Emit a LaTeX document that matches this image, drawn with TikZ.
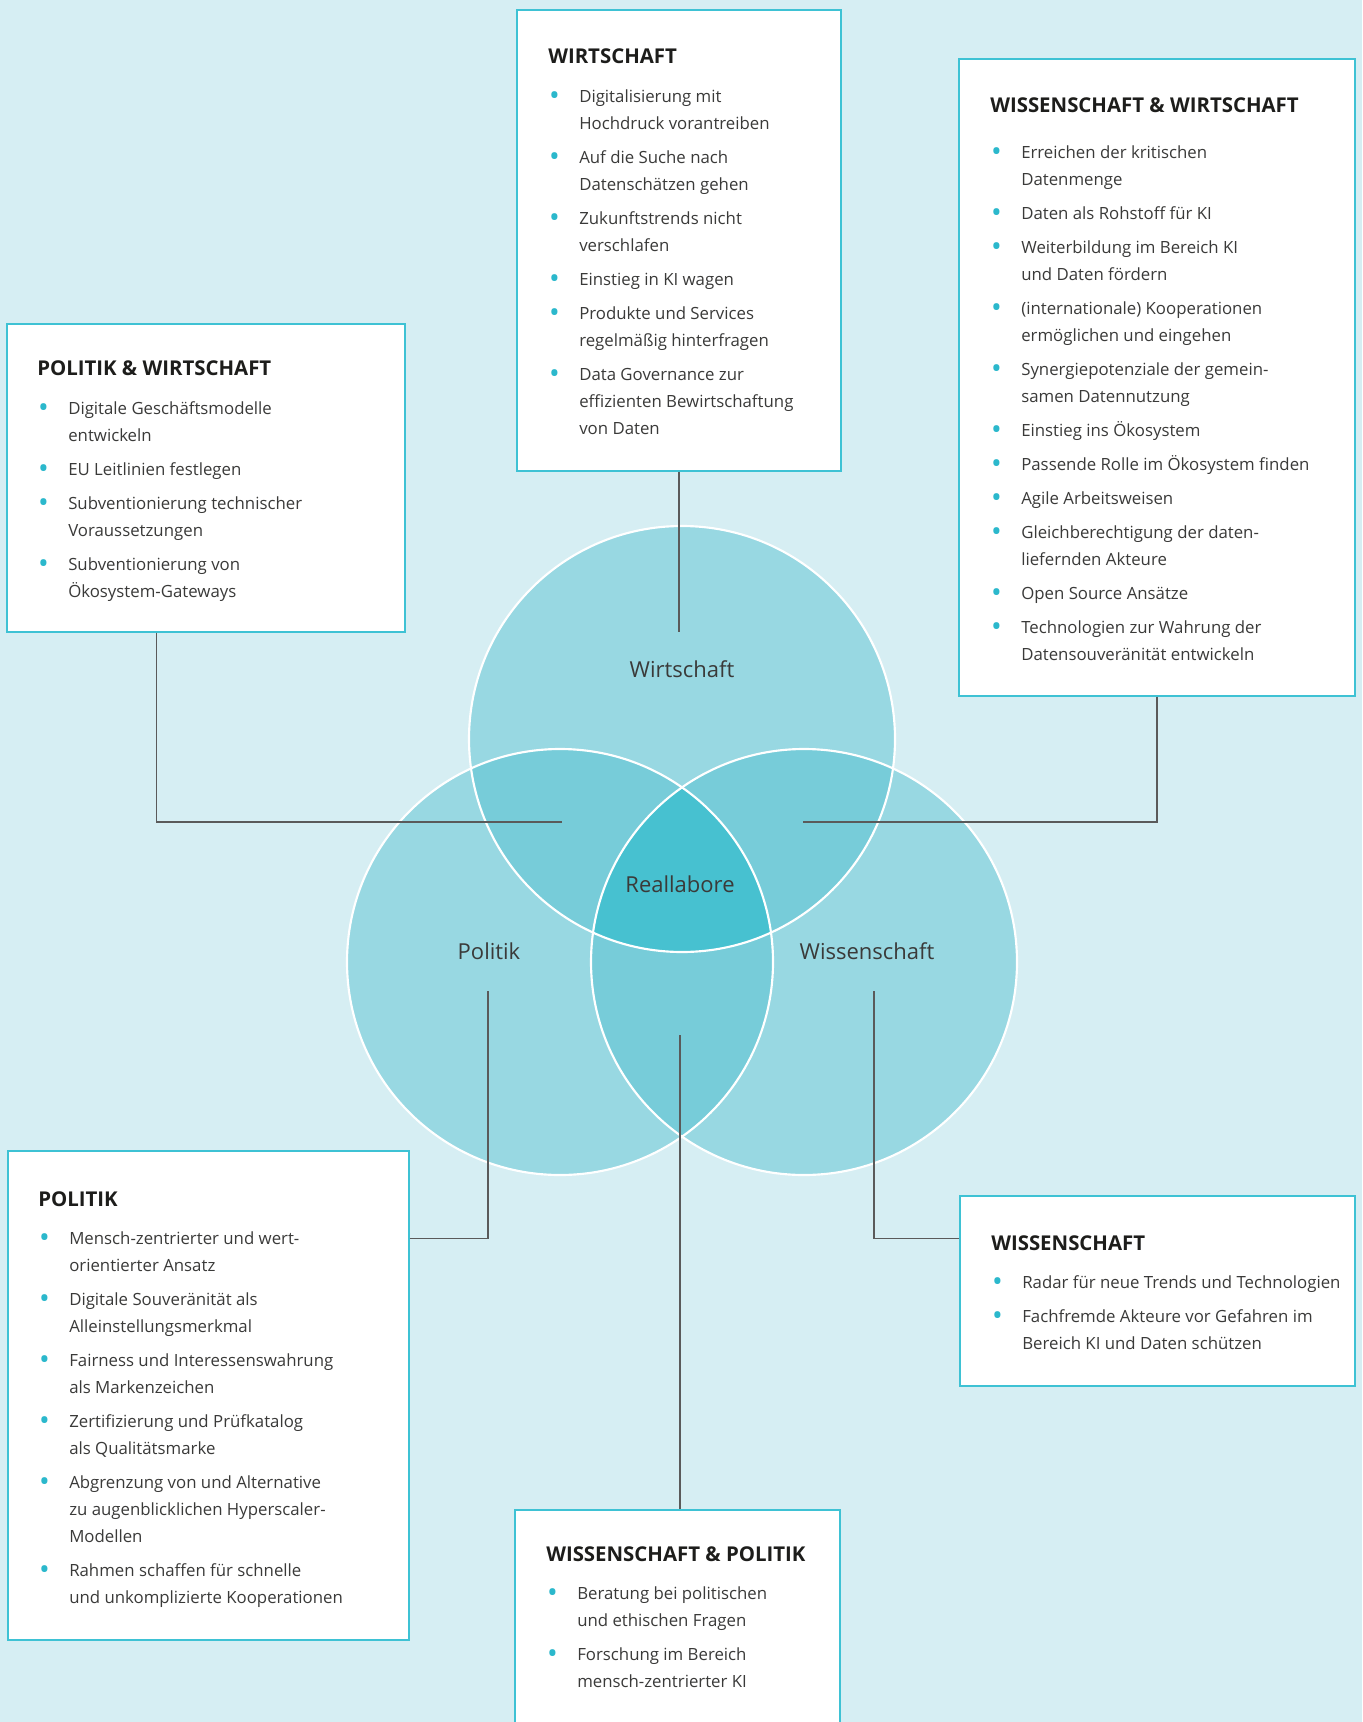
\documentclass[tikz,border=0pt]{standalone}
\usepackage{fontspec}
\setmainfont{Open Sans}
\usetikzlibrary{fit}
\definecolor{bgc}{HTML}{D6EEF3}
\definecolor{circc}{HTML}{98D8E2}
\definecolor{ovc}{HTML}{77CCD9}
\definecolor{ctrc}{HTML}{47C1D0}
\definecolor{boxc}{HTML}{3EC2D4}
\definecolor{bulc}{HTML}{2BB8CC}
\definecolor{txtc}{HTML}{3A3A39}
\definecolor{ttlc}{HTML}{1D1D1B}
\definecolor{linec}{HTML}{5A5A5A}
\newcommand\boxttl[2][0pt]{\noindent\leavevmode{\fontsize{15.3pt}{20.2pt}\selectfont\bfseries\color{ttlc}#2}\par\vspace{\dimexpr3.5pt+#1\relax}}
\newcommand\itm[1]{\par\vspace{5.3pt}\noindent\hangindent=23.25pt\hangafter=1\makebox[23.25pt][l]{\hspace{0.6pt}\raisebox{-0.32ex}{\scalebox{1.7}{\textcolor{bulc}{•}}}}#1}
\tikzset{
  infobox/.style={draw=boxc, line width=1.1pt, fill=white, inner sep=0pt},
  conn/.style={draw=linec, line width=0.9pt},
  content/.style={anchor=base west, inner sep=0pt, text=txtc, font=\fontsize{12.6pt}{20.2pt}\selectfont},
  clabel/.style={font=\fontsize{16.5pt}{19pt}\selectfont, text=txtc, inner sep=0pt, anchor=center},
  ring/.style={draw=white, line width=1.6pt},
}
\begin{document}
\begin{tikzpicture}[x=0.75pt,y=-0.75pt]
\useasboundingbox (0,0) rectangle (1362,1722);
\clip (0,0) rectangle (1362,1722);
\fill[bgc] (0,0) rectangle (1362,1722);

% circles
\coordinate (cw) at (682,739);
\coordinate (cp) at (560,962);
\coordinate (cs) at (804,962);
\fill[circc] (cw) circle (213);
\fill[circc] (cp) circle (213);
\fill[circc] (cs) circle (213);
\begin{scope}
  \clip (cw) circle (213);
  \fill[ovc] (cp) circle (213);
  \fill[ovc] (cs) circle (213);
\end{scope}
\begin{scope}
  \clip (cp) circle (213);
  \fill[ovc] (cs) circle (213);
\end{scope}
\begin{scope}
  \clip (cw) circle (213);
  \clip (cp) circle (213);
  \fill[ctrc] (cs) circle (213);
\end{scope}
\draw[ring] (cw) circle (213);
\draw[ring] (cp) circle (213);
\draw[ring] (cs) circle (213);

\node[clabel] (lw) at (682,669) {Wirtschaft};
\node[clabel] (lp) at (489,951) {Politik};
\node[clabel] (ls) at (867,951) {Wissenschaft};
\node[clabel] (lr) at (680,884) {Reallabore};

% boxes
\node[infobox, fit={(517,10) (841,471)}] (wbox) {};
\node[infobox, fit={(959,59) (1355,696)}] (wwbox) {};
\node[infobox, fit={(7,324) (405,632)}] (pwbox) {};
\node[infobox, fit={(8,1151) (409,1640)}] (pbox) {};
\node[infobox, fit={(960,1196) (1355,1386)}] (wsbox) {};
\node[infobox, fit={(515,1510) (840,1760)}] (wpbox) {};

% connectors
\coordinate (wend) at (679,632);
\coordinate (pwend) at (562,822);
\coordinate (wwend) at (803,822);
\coordinate (pend) at (488,991);
\coordinate (wsend) at (874,991);
\coordinate (wpend) at (680,1035);
\draw[conn] (wbox.south) -- (wend);
\draw[conn] (pwbox.south west) ++(150,0) |- (pwend);
\draw[conn] (wwbox.south) |- (wwend);
\draw[conn] (pbox.north east) ++(0,88) -| (pend);
\draw[conn] (wsbox.north west) ++(0,43) -| (wsend);
\draw[conn] (wpend) -- (wpend |- wpbox.north);

% contents
\node[content] (tw) at (548,64) {\parbox[t]{300pt}{%
\boxttl{WIRTSCHAFT}
\itm{Digitalisierung mit\\Hochdruck vorantreiben}
\itm{Auf die Suche nach\\Datenschätzen gehen}
\itm{Zukunftstrends nicht\\verschlafen}
\itm{Einstieg in KI wagen}
\itm{Produkte und Services\\regelmäßig hinterfragen}
\itm{Data Governance zur\\effizienten Bewirtschaftung\\von Daten}}};

\node[content] (tww) at (990,112.5) {\parbox[t]{350pt}{%
\boxttl[5.8pt]{WISSENSCHAFT \& WIRTSCHAFT}
\itm{Erreichen der kritischen\\Datenmenge}
\itm{Daten als Rohstoff für KI}
\itm{Weiterbildung im Bereich KI\\und Daten fördern}
\itm{(internationale) Kooperationen\\ermöglichen und eingehen}
\itm{Synergiepotenziale der gemein-\\samen Datennutzung}
\itm{Einstieg ins Ökosystem}
\itm{Passende Rolle im Ökosystem finden}
\itm{Agile Arbeitsweisen}
\itm{Gleichberechtigung der daten-\\liefernden Akteure}
\itm{Open Source Ansätze}
\itm{Technologien zur Wahrung der\\Datensouveränität entwickeln}}};

\node[content] (tpw) at (37,376) {\parbox[t]{350pt}{%
\boxttl{POLITIK \& WIRTSCHAFT}
\itm{Digitale Geschäftsmodelle\\entwickeln}
\itm{EU Leitlinien festlegen}
\itm{Subventionierung technischer\\Voraussetzungen}
\itm{Subventionierung von\\Ökosystem-Gateways}}};

\node[content] (tp) at (38,1206) {\parbox[t]{350pt}{%
\boxttl{POLITIK}
\itm{Mensch-zentrierter und wert-\\orientierter Ansatz}
\itm{Digitale Souveränität als\\Alleinstellungsmerkmal}
\itm{Fairness und Interessenswahrung\\als Markenzeichen}
\itm{Zertifizierung und Prüfkatalog\\als Qualitätsmarke}
\itm{Abgrenzung von und Alternative\\zu augenblicklichen Hyperscaler-\\Modellen}
\itm{Rahmen schaffen für schnelle\\und unkomplizierte Kooperationen}}};

\node[content] (ts) at (991,1250) {\parbox[t]{350pt}{%
\boxttl{WISSENSCHAFT}
\itm{Radar für neue Trends und Technologien}
\itm{Fachfremde Akteure vor Gefahren im\\Bereich KI und Daten schützen}}};

\node[content] (twp) at (546,1561) {\parbox[t]{300pt}{%
\boxttl{WISSENSCHAFT \& POLITIK}
\itm{Beratung bei politischen\\und ethischen Fragen}
\itm{Forschung im Bereich\\mensch-zentrierter KI}}};
\end{tikzpicture}
\end{document}
